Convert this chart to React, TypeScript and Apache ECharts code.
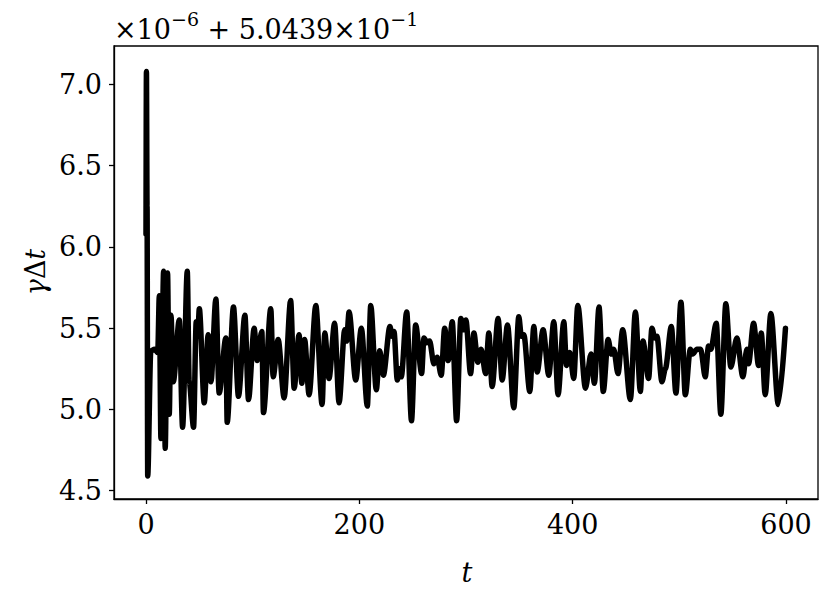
import React, { useEffect, useRef } from "react";
import * as echarts from "echarts";

const FONT = "'DejaVu Serif', 'Liberation Serif', serif";

// time t
const tValues: number[] = [
  0, 0.4, 1.0, 1.6, 4.5, 8, 11, 12.5, 14, 16.5, 18, 20.2, 21.8, 23.4, 25.6, 31.2, 34.3, 38.7, 40.5, 44.6,
  47.1, 48.5, 50.0, 54.6, 58.3, 60.9, 65.5, 68.6, 74.9, 76.1, 82.0, 86.7, 92.7, 96.1, 101.4, 104.2, 108.6,
  110.1, 117.0, 119.2, 123.9, 129.5, 135.6, 138.9, 143.5, 146.1, 148.7, 152.9, 159.2, 165.1, 167.6, 171.6,
  176.8, 181.0, 186.3, 188.0, 190.4, 196.6, 201.9, 207.5, 210.7, 215.9, 219.1, 222.5, 228.7, 230.6, 232.5,
  235.6, 237.5, 239.3, 244.4, 248.9, 252.8, 258.4, 260.6, 263.4, 265.9, 269.9, 273.0, 276.8, 280.0, 283.3,
  287.1, 291.2, 295.2, 297.6, 299.9, 304.3, 307.4, 311.1, 314.2, 318.4, 321.4, 324.5, 330.1, 333.9, 338.9,
  344.8, 349.5, 351.9, 354.2, 359.8, 363.6, 366.7, 372.3, 377.6, 382.3, 386.3, 391.7, 394.2, 397.3, 401.0,
  404.8, 412.0, 417.2, 420.4, 424.7, 428.7, 433.2, 436.3, 438.5, 442.5, 446.9, 454.1, 458.8, 463.5, 465.9,
  471.2, 474.3, 476.9, 479.0, 483.7, 486.9, 492.5, 496.8, 501.5, 505.6, 510.3, 512.5, 516.5, 520.0, 524.3,
  527.4, 529.6, 534.6, 538.9, 543.6, 548.3, 553.9, 559.6, 563.3, 564.9, 569.6, 574.3, 576.8, 580.5, 585.8,
  592.8, 599.5,
];

// gamma*dt, in units of 1e-6, offset 5.0439e-1
const gammaValues: number[] = [
  6.08, 7.08, 6.25, 4.59, 5.36, 5.37, 5.35, 5.70, 4.82, 5.85, 4.76, 5.84, 4.97, 5.58, 5.17, 5.55, 4.89, 5.85, 5.17, 4.89,
  5.54, 5.45, 5.62, 5.04, 5.46, 5.17, 5.68, 5.10, 5.44, 4.92, 5.63, 5.08, 5.58, 5.06, 5.50, 5.30, 5.48,
  4.98, 5.62, 5.20, 5.43, 5.07, 5.67, 5.13, 5.46, 5.16, 5.43, 5.09, 5.64, 5.03, 5.47, 5.19,
  5.53, 5.04, 5.49, 5.42, 5.60, 5.18, 5.50, 5.02, 5.64, 5.12, 5.36, 5.21, 5.51, 5.45, 5.48,
  5.18, 5.25, 5.20, 5.60, 4.93, 5.52, 5.22, 5.44, 5.41, 5.42, 5.28, 5.32, 5.21, 5.50, 5.30,
  5.54, 4.93, 5.56, 5.49, 5.55, 5.22, 5.47, 5.29, 5.37, 5.22, 5.47, 5.14, 5.56, 5.18, 5.52,
  5.01, 5.57, 5.45, 5.46, 5.11, 5.51, 5.23, 5.49, 5.21, 5.54, 5.09, 5.54, 5.27, 5.35, 5.19,
  5.64, 5.13, 5.34, 5.16, 5.63, 5.11, 5.43, 5.34, 5.37, 5.22, 5.49, 5.06, 5.60, 5.11, 5.42,
  5.19, 5.50, 5.44, 5.45, 5.17, 5.25, 5.51, 5.10, 5.66, 5.09, 5.37, 5.34, 5.37, 5.37, 5.20,
  5.39, 5.37, 5.53, 4.97, 5.65, 5.26, 5.44, 5.20, 5.37, 5.28, 5.53, 5.27, 5.47, 5.09, 5.59,
  5.03, 5.50,
];

const xTicks: number[] = [0, 200, 400, 600];
const yTicks: number[] = [4.5, 5.0, 5.5, 6.0, 6.5, 7.0];

export default function App() {
  const ref = useRef<HTMLDivElement>(null);

  useEffect(() => {
    if (!ref.current) return;
    const chart = echarts.init(ref.current, null, { renderer: "svg" });
    const data = tValues.map((t, i) => [t, gammaValues[i]]);
    chart.setOption({
      animation: false,
      backgroundColor: "#ffffff",
      grid: {
        left: 114,
        right: 12,
        top: 46,
        bottom: 107,
        show: true,
        borderColor: "#000",
        borderWidth: 1.3,
        backgroundColor: "transparent",
      },
      xAxis: {
        type: "value",
        min: -30,
        max: 630,
        splitLine: { show: false },
        axisLine: { show: true, onZero: false, lineStyle: { color: "#000", width: 1.3 } },
        axisTick: {
          show: true,
          length: 5,
          customValues: xTicks,
          lineStyle: { color: "#000", width: 1.3 },
        },
        axisLabel: {
          customValues: xTicks,
          color: "#000",
          fontFamily: FONT,
          fontSize: 27,
          margin: 12,
          formatter: (v: number) => String(Math.round(v)),
        },
      },
      yAxis: {
        type: "value",
        min: 4.448,
        max: 7.237,
        splitLine: { show: false },
        axisLine: { show: true, onZero: false, lineStyle: { color: "#000", width: 1.3 } },
        axisTick: {
          show: true,
          length: 5,
          customValues: yTicks,
          lineStyle: { color: "#000", width: 1.3 },
        },
        axisLabel: {
          customValues: yTicks,
          color: "#000",
          fontFamily: FONT,
          fontSize: 27,
          margin: 12,
          formatter: (v: number) => v.toFixed(1),
        },
      },
      graphic: [
        {
          type: "text",
          x: 114,
          y: 43,
          style: {
            text: "{n|×10}{s|−6}{n| + 5.0439×10}{s|−1}",
            textVerticalAlign: "bottom",
            rich: {
              n: { fontFamily: FONT, fontSize: 27, fill: "#000", lineHeight: 34, verticalAlign: "bottom" },
              s: { fontFamily: FONT, fontSize: 19, fill: "#000", lineHeight: 34, verticalAlign: "top" },
            },
          },
        },
        {
          type: "text",
          x: 35,
          y: 272,
          rotation: Math.PI / 2,
          style: {
            text: "{i|γ}{u|Δ}{i|t}",
            textAlign: "center",
            textVerticalAlign: "middle",
            rich: {
              i: { fontFamily: FONT, fontSize: 27, fontStyle: "italic", fill: "#000" },
              u: { fontFamily: FONT, fontSize: 27, fill: "#000" },
            },
          },
        },
        {
          type: "text",
          x: 467,
          y: 572,
          style: {
            text: "t",
            fontFamily: FONT,
            fontSize: 27,
            fontStyle: "italic",
            fill: "#000",
            textAlign: "center",
            textVerticalAlign: "middle",
          },
        },
      ],
      series: [
        {
          type: "line",
          data,
          showSymbol: false,
          smooth: 0.3,
          smoothMonotone: "x",
          lineStyle: { color: "#000", width: 5.5, join: "round", cap: "round" },
          clip: false,
        },
      ],
    });
    return () => chart.dispose();
  }, []);

  return (
    <div
      ref={ref}
      style={{ position: "fixed", left: 0, top: 0, width: 830, height: 606, background: "#fff" }}
    />
  );
}
